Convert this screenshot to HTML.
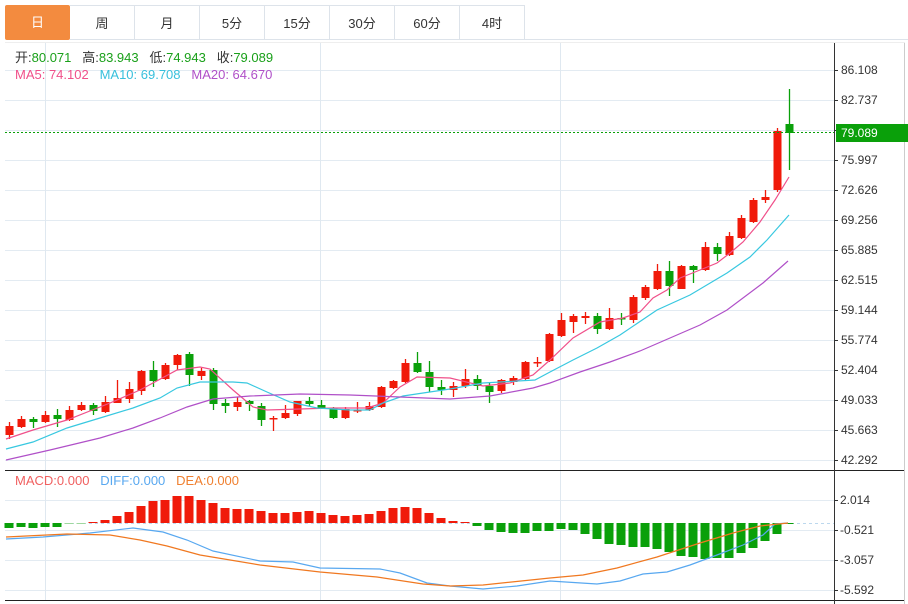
<!DOCTYPE html>
<html><head><meta charset="utf-8"><style>
body{margin:0;background:#fff;font-family:"Liberation Sans","Noto Sans CJK SC",sans-serif;}
#w{position:relative;width:908px;height:604px;overflow:hidden;}
.tab{position:absolute;top:5px;height:35px;width:65px;border:1px solid #dde3ea;border-left:none;box-sizing:border-box;text-align:center;line-height:35px;font-size:13px;color:#333;}
</style></head><body><div id="w">
<div class="tab" style="left:5px;background:#f38b3f;color:#fff;border:none;border-radius:2px">日</div>
<div class="tab" style="left:70px">周</div>
<div class="tab" style="left:135px">月</div>
<div class="tab" style="left:200px">5分</div>
<div class="tab" style="left:265px">15分</div>
<div class="tab" style="left:330px">30分</div>
<div class="tab" style="left:395px">60分</div>
<div class="tab" style="left:460px">4时</div>
<div style="position:absolute;left:525px;top:5px;width:383px;height:35px;border-bottom:1px solid #dde3ea;box-sizing:border-box"></div>
<svg id="s" width="908" height="604" style="position:absolute;left:0;top:0"></svg>
</div>
<script>
var s=document.getElementById('s'),h='';
function L(x1,y1,x2,y2,c,w,d){h+='<line x1="'+x1+'" y1="'+y1+'" x2="'+x2+'" y2="'+y2+'" stroke="'+c+'" stroke-width="'+(w||1)+'"'+(d?' stroke-dasharray="'+d+'"':'')+'/>';}
function T(x,y,t,c,a){h+='<text x="'+x+'" y="'+y+'" fill="'+c+'" font-size="12"'+(a?' text-anchor="'+a+'"':'')+'>'+t+'</text>';}
var py=[70,100,130,160,190,220,250,280,310,340,370,400,430,460],pl=['86.108','82.737','79.366','75.997','72.626','69.256','65.885','62.515','59.144','55.774','52.404','49.033','45.663','42.292'];
py.forEach(function(y,i){L(5,y+.5,834,y+.5,'#e3ebf2');L(834,y+.5,838,y+.5,'#333');if(i!=2)T(841,y+4,pl[i],'#333');});
var my=[500,530,560,590],ml=['2.014','-0.521','-3.057','-5.592'];
my.forEach(function(y,i){L(5,y+.5,834,y+.5,'#e3ebf2');L(834,y+.5,838,y+.5,'#333');T(840,y+4,ml[i],'#333');});
[45,320,560].forEach(function(x){L(x+.5,42,x+.5,600,'#dfe8f0');});
L(5,470.5,905,470.5,'#222');L(5,600.5,905,600.5,'#222');L(834.5,42,834.5,604,'#333');L(904.5,42,904.5,604,'#ccc');
L(5,42.5,905,42.5,'#eee');
var C=[[435,426,422,439],[427,419,416,428],[419,422,417,428],[422,415,411,423],[415,419,409,427],[420,410,406,421],[410,405,402,411],[405,411,403,415],[412,402,396,413],[403,398,380,403],[399,389,382,403],[391,371,370,395],[370,381,361,387],[379,365,363,380],[365,355,354,370],[354,375,352,386],[376,371,368,380],[370,404,368,410],[403,406,399,413],[407,402,397,411],[401,404,400,411],[406,420,403,426],[419,418,416,431],[418,413,405,419],[414,401,401,416],[401,404,397,406],[405,408,400,409],[408,418,407,419],[418,409,407,419],[411,410,402,413],[410,406,402,411],[407,387,386,408],[388,381,380,389],[382,363,359,383],[363,372,352,373],[372,387,361,392],[387,390,380,395],[390,386,382,397],[386,379,369,388],[379,386,375,390],[386,392,383,403],[391,380,379,393],[382,378,376,385],[379,362,361,380],[363,362,357,367],[361,334,333,362],[336,320,313,337],[322,316,314,333],[318,316,312,324],[316,329,313,334],[329,318,308,330],[318,319,313,325],[320,297,295,323],[298,287,285,300],[289,271,264,290],[271,286,261,296],[289,266,265,289],[266,270,265,283],[270,247,242,271],[247,254,243,261],[255,236,232,256],[238,218,215,239],[222,200,198,223],[200,197,190,203],[190,131,128,192],[124,133,89,170]];
C.forEach(function(c,i){var x=9+12*i,up=c[1]<=c[0],col=up?'#f01a0a':'#0aa00a';L(x+.5,c[2],x+.5,c[3],col,1.3);var t=Math.min(c[0],c[1]),b=Math.max(c[0],c[1]);h+='<rect x="'+(x-3.5)+'" y="'+t+'" width="8" height="'+Math.max(b-t,1.5)+'" fill="'+col+'"/>';});
function P(pts,c){h+='<polyline fill="none" stroke="'+c+'" stroke-width="1.2" points="'+pts+'"/>';}
P('6,439 33,430 67,420 110,403 140,390 177,370 200,367 210,369 233,390 253,407 267,410 300,409 333,408 367,408 383,403 400,387 417,377 450,378 483,386 510,383 533,375 550,360 573,338 600,322 623,318 640,312 653,298 667,290 680,278 700,270 717,263 730,253 743,242 760,222 775,200 789,177','#f0508a');
P('6,449 33,442 67,428 100,418 133,408 160,398 177,388 200,382 233,382 247,383 267,392 290,402 317,408 350,410 370,410 383,403 403,396 450,389 483,383 535,380 550,372 573,360 597,348 620,335 657,310 690,295 727,273 750,257 767,240 789,215','#38c8e0');
P('6,460 50,450 100,438 133,428 160,418 187,407 213,399 250,396 300,394 350,395 400,397 450,399 490,396 533,388 550,383 580,372 610,362 640,351 670,338 700,325 727,310 763,283 788,261','#b050c8');
L(5,132.5,834,132.5,'#0aa00a',1,'2,2');
h+='<rect x="836" y="124" width="72" height="18" fill="#0aa00a"/>';T(841,137,'79.089','#fff');
var M=[528,527,528,527,527,524,524,522,520,516,512,506,501,500,496,496,500,503,508,509,509,511,513,513,512,511,513,515,516,515,514,511,508,507,508,513,518,521,522,526,530,532,533,533,531,531,529,530,534,539,544,545,547,547,549,552,556,557,559,558,558,553,548,541,534,524];
L(5,523.5,834,523.5,'#bcd8ee',1,'3,3');
M.forEach(function(y,i){var x=9+12*i,up=y<523,t=up?y:523,hh=Math.max(Math.abs(y-523),1);h+='<rect x="'+(x-4.5)+'" y="'+t+'" width="9" height="'+hh+'" fill="'+(up?'#f01a0a':(i==5||i==6?'#9ed89e':'#0aa00a'))+'"/>';});
P('6,539 43,537 90,533 133,528 163,532 187,540 213,551 260,561 293,562 320,568 380,569 400,573 427,583 450,586 483,589 517,586 550,581 597,584 620,581 643,574 667,572 690,565 717,555 743,545 763,535 775,524 788,523','#58a8f0');
P('6,537 67,534 110,535 140,540 167,546 200,555 260,565 320,572 377,577 423,584 450,586 483,585 550,578 583,575 617,568 657,557 700,543 733,533 760,526 788,523','#f07820');
s.innerHTML=h;
</script>
<div style="position:absolute;left:15px;top:49px;font-size:13px;line-height:17px;white-space:nowrap">
<div><span style="color:#333">开:</span><span style="color:#1aa01a">80.071</span>&nbsp;&nbsp; <span style="color:#333">高:</span><span style="color:#1aa01a">83.943</span>&nbsp;&nbsp; <span style="color:#333">低:</span><span style="color:#1aa01a">74.943</span>&nbsp;&nbsp; <span style="color:#333">收:</span><span style="color:#1aa01a">79.089</span></div>
<div><span style="color:#f0508a">MA5: 74.102</span>&nbsp;&nbsp; <span style="color:#38c0dc">MA10: 69.708</span>&nbsp;&nbsp; <span style="color:#b050c8">MA20: 64.670</span></div>
</div>
<div style="position:absolute;left:15px;top:473px;font-size:13px;white-space:nowrap"><span style="color:#f06060">MACD:0.000</span>&nbsp;&nbsp; <span style="color:#58a8f0">DIFF:0.000</span>&nbsp;&nbsp; <span style="color:#f08030">DEA:0.000</span></div>
</body></html>
